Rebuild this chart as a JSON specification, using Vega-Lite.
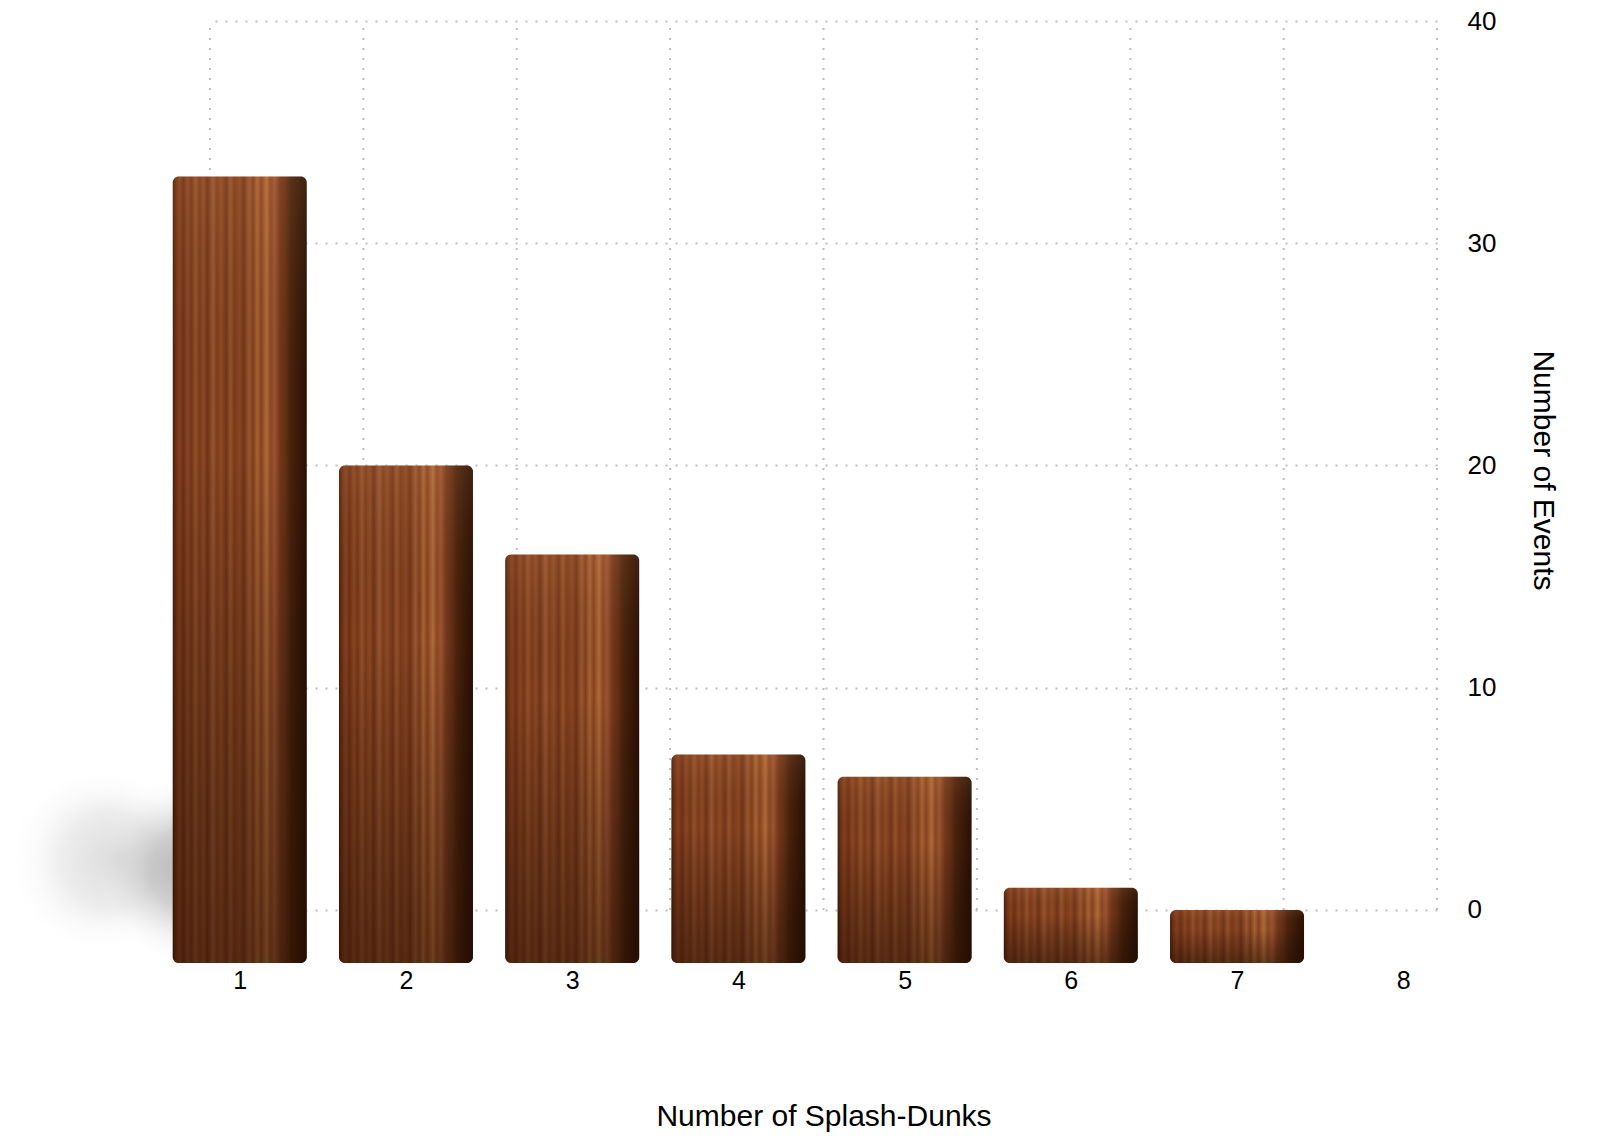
{
  "$schema": "https://vega.github.io/schema/vega-lite/v6.json",
  "description": "Wooden bar chart of splash-dunk counts.",
  "width": 1227,
  "height": 942,
  "autosize": {"type": "none"},
  "padding": {"left": 210, "top": 21, "right": 163, "bottom": 185},
  "background": "white",
  "config": {"view": {"stroke": null}, "font": "Liberation Sans"},
  "resolve": {
    "scale": {"x": "independent"},
    "axis": {"x": "independent", "y": "independent"}
  },
  "layer": [
    {
      "data": {"values": [
        {"gx": 0}, {"gx": 1}, {"gx": 2}, {"gx": 3}, {"gx": 4},
        {"gx": 5}, {"gx": 6}, {"gx": 7}, {"gx": 8}
      ]},
      "mark": {"type": "rule", "stroke": "#bdbdbd", "strokeWidth": 2, "strokeDash": [2, 8]},
      "encoding": {
        "x": {"field": "gx", "type": "quantitative", "scale": {"domain": [0, 8], "nice": false}, "axis": null},
        "y": {"datum": 0, "type": "quantitative", "axis": null},
        "y2": {"datum": 40}
      }
    },
    {
      "data": {"values": [
        {"n": 1, "events": 33},
        {"n": 2, "events": 20},
        {"n": 3, "events": 16},
        {"n": 4, "events": 7},
        {"n": 5, "events": 6},
        {"n": 6, "events": 1},
        {"n": 7, "events": 0}
      ]},
      "resolve": {"axis": {"x": "independent", "y": "independent"}},
      "layer": [
        {
          "transform": [{"filter": "datum.n == 1"}],
          "mark": {
            "type": "rect",
            "fill": {
              "gradient": "radial",
              "x1": 0.6, "y1": 0.5, "r1": 0,
              "x2": 0.5, "y2": 0.5, "r2": 0.5,
              "stops": [
                {"offset": 0, "color": "rgba(160,160,160,0.4)"},
                {"offset": 0.5, "color": "rgba(180,180,180,0.25)"},
                {"offset": 1, "color": "rgba(255,255,255,0)"}
              ]
            }
          },
          "encoding": {
            "x": {"datum": -0.4024, "type": "quantitative", "axis": null},
            "x2": {"datum": 0.7315},
            "y": {"datum": 6.524, "type": "quantitative", "axis": null},
            "y2": {"datum": -2.025}
          }
        },
        {
          "transform": [{"filter": "datum.n == 1"}],
          "mark": {
            "type": "rect",
            "fill": {
              "gradient": "radial",
              "x1": 0.5, "y1": 0.5, "r1": 0,
              "x2": 0.5, "y2": 0.5, "r2": 0.5,
              "stops": [
                {"offset": 0, "color": "rgba(140,140,140,0.7)"},
                {"offset": 0.45, "color": "rgba(160,160,160,0.45)"},
                {"offset": 1, "color": "rgba(255,255,255,0)"}
              ]
            }
          },
          "encoding": {
            "x": {"datum": 0.1347, "type": "quantitative", "axis": null},
            "x2": {"datum": 1.328},
            "y": {"datum": 6.3, "type": "quantitative", "axis": null},
            "y2": {"datum": -2.7}
          }
        },
        {
          "mark": {
            "type": "bar",
            "width": 134,
            "cornerRadius": 6,
            "fill": {
              "gradient": "linear",
              "x1": 0, "y1": 0, "x2": 1, "y2": 0,
              "stops": [
                {"offset": 0, "color": "#4a1e0a"},
                {"offset": 0.025, "color": "#6e3216"},
                {"offset": 0.05, "color": "#84401e"},
                {"offset": 0.08, "color": "#6c3015"},
                {"offset": 0.11, "color": "#8a4522"},
                {"offset": 0.14, "color": "#743618"},
                {"offset": 0.17, "color": "#92502a"},
                {"offset": 0.2, "color": "#7a3a1a"},
                {"offset": 0.23, "color": "#8c4824"},
                {"offset": 0.26, "color": "#6e3216"},
                {"offset": 0.3, "color": "#985430"},
                {"offset": 0.33, "color": "#7c3c1b"},
                {"offset": 0.36, "color": "#8e4a24"},
                {"offset": 0.4, "color": "#723418"},
                {"offset": 0.43, "color": "#94522a"},
                {"offset": 0.46, "color": "#7a3a1a"},
                {"offset": 0.5, "color": "#8a4622"},
                {"offset": 0.53, "color": "#703317"},
                {"offset": 0.57, "color": "#9a5630"},
                {"offset": 0.6, "color": "#7e3e1c"},
                {"offset": 0.63, "color": "#a86234"},
                {"offset": 0.66, "color": "#86421f"},
                {"offset": 0.7, "color": "#b06a3a"},
                {"offset": 0.73, "color": "#8a4622"},
                {"offset": 0.76, "color": "#9a5430"},
                {"offset": 0.8, "color": "#74361a"},
                {"offset": 0.84, "color": "#623014"},
                {"offset": 0.88, "color": "#4a220c"},
                {"offset": 0.93, "color": "#3c1a08"},
                {"offset": 1, "color": "#2a1004"}
              ]
            }
          },
          "encoding": {
            "x": {
              "field": "n",
              "type": "quantitative",
              "scale": {"domain": [0.851, 8.173], "nice": false, "zero": false},
              "axis": {
                "values": [1, 2, 3, 4, 5, 6, 7, 8],
                "format": "d",
                "domain": false,
                "ticks": false,
                "tickSize": 0,
                "grid": false,
                "labelFlush": false,
                "labelFontSize": 25,
                "labelColor": "#000000",
                "labelBaseline": "alphabetic",
                "labelPadding": 25,
                "title": "Number of Splash-Dunks",
                "titleFontSize": 30,
                "titleFontWeight": "normal",
                "titleColor": "#000000",
                "titleBaseline": "alphabetic",
                "titleY": 162
              }
            },
            "y": {
              "field": "events",
              "type": "quantitative",
              "scale": {"domain": [-2.385, 40], "nice": false, "zero": false},
              "axis": {
                "orient": "right",
                "values": [0, 10, 20, 30, 40],
                "domain": false,
                "ticks": false,
                "tickSize": 0,
                "grid": true,
                "gridColor": "#bdbdbd",
                "gridWidth": 2,
                "gridDash": [2, 8],
                "labelAlign": "left",
                "labelBaseline": "middle",
                "labelPadding": 30,
                "labelFontSize": 26,
                "labelColor": "#000000",
                "title": "Number of Events",
                "titleFontSize": 30,
                "titleFontWeight": "normal",
                "titleColor": "#000000",
                "titleAngle": 90,
                "titleAlign": "center",
                "titleBaseline": "middle",
                "titleX": 105,
                "titleY": 449
              }
            },
            "y2": {"datum": -2.385}
          }
        },
        {
          "mark": {
            "type": "bar",
            "width": 134,
            "cornerRadius": 6,
            "fill": {
              "gradient": "linear",
              "x1": 0, "y1": 0, "x2": 0, "y2": 1,
              "stops": [
                {"offset": 0, "color": "rgba(255,190,130,0.1)"},
                {"offset": 0.35, "color": "rgba(0,0,0,0)"},
                {"offset": 1, "color": "rgba(30,10,0,0.45)"}
              ]
            }
          },
          "encoding": {
            "x": {"field": "n", "type": "quantitative", "axis": null},
            "y": {"field": "events", "type": "quantitative", "axis": null},
            "y2": {"datum": -2.385}
          }
        }
      ]
    }
  ]
}
